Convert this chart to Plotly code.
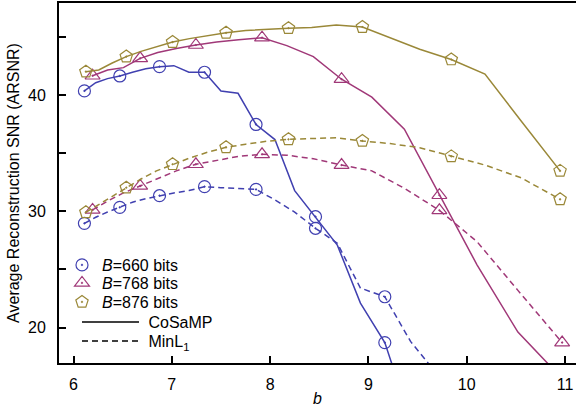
import plotly.graph_objects as go

# ---- data ----
b_660 = [6.111, 6.226, 6.346, 6.471, 6.600, 6.735, 6.875, 7.021, 7.174, 7.333,
         7.500, 7.674, 7.857, 8.049, 8.250, 8.462, 8.684, 8.919, 9.167, 9.429, 9.706]
cosamp_660 = [40.39, 41.10, 41.45, 41.68, 42.00, 42.30, 42.48, 42.57, 42.00, 42.00,
              40.39, 40.19, 37.50, 36.20, 31.80, 29.55, 27.10, 22.10, 18.70, 12.00, 8.0]
minl1_660 = [28.98, 29.50, 29.95, 30.36, 30.80, 31.10, 31.36, 31.60, 31.80, 32.14,
             32.05, 32.00, 31.90, 31.00, 29.95, 28.55, 27.26, 23.40, 22.65, 18.80, 15.90]

b_768 = [6.194, 6.347, 6.508, 6.678, 6.857, 7.046, 7.245, 7.456, 7.680, 7.918,
         8.170, 8.440, 8.727, 9.035, 9.366, 9.722, 10.105, 10.521, 10.971]
cosamp_768 = [41.70, 42.20, 42.40, 43.20, 43.70, 44.05, 44.35, 44.60, 44.80, 44.98,
              44.30, 43.35, 41.40, 39.85, 37.10, 31.40, 25.40, 19.60, 15.60]
minl1_768 = [30.13, 30.90, 31.60, 32.20, 32.90, 33.50, 34.07, 34.40, 34.75, 34.93,
             34.85, 34.55, 34.00, 33.50, 32.00, 30.10, 27.40, 23.20, 18.70]

b_876 = [6.126, 6.257, 6.394, 6.537, 6.687, 6.844, 7.008, 7.180, 7.361, 7.552, 7.752,
         7.964, 8.187, 8.423, 8.673, 8.939, 9.221, 9.522, 9.843, 10.186, 10.554, 10.950]
cosamp_876 = [42.05, 42.20, 42.80, 43.35, 43.80, 44.20, 44.60, 44.90, 45.15, 45.40, 45.60,
              45.70, 45.80, 45.85, 46.08, 45.90, 45.00, 43.98, 43.10, 41.85, 37.80, 33.50]
minl1_876 = [29.93, 30.60, 31.30, 32.05, 32.80, 33.50, 34.07, 34.60, 35.10, 35.53, 35.80,
             36.05, 36.22, 36.30, 36.36, 36.08, 35.85, 35.50, 34.75, 34.00, 32.90, 31.05]

x_ticks = [6, 7, 8, 9, 10, 11]
y_ticks = [20, 30, 40]
y_minor_ticks = [25, 35, 45]

series = [
    ("<i>B</i>=660 bits", b_660, cosamp_660, minl1_660, "rgb(64,64,176)", "circle-open-dot", 12),
    ("<i>B</i>=768 bits", b_768, cosamp_768, minl1_768, "rgb(160,56,120)", "triangle-up-open-dot", 13),
    ("<i>B</i>=876 bits", b_876, cosamp_876, minl1_876, "rgb(154,136,56)", "pentagon-open-dot", 13),
]

FONT = "Liberation Sans, Arial, sans-serif"
fig = go.Figure()

legend_ids = ["legend", "legend2", "legend3"]
for i, (name, bx, cs, ml, col, sym, msz) in enumerate(series):
    fig.add_trace(go.Scatter(x=bx[:len(cs)], y=cs, mode="lines",
                             line=dict(color=col, width=1.5), showlegend=False))
    fig.add_trace(go.Scatter(x=bx[:len(ml)], y=ml, mode="lines",
                             line=dict(color=col, width=1.5, dash="6px,4px"), showlegend=False))
    fig.add_trace(go.Scatter(x=bx[:len(cs)][::3], y=cs[::3], mode="markers",
                             marker=dict(symbol=sym, size=msz, color=col, line=dict(width=1.2)),
                             name=name, legend=legend_ids[i]))
    fig.add_trace(go.Scatter(x=bx[:len(ml)][::3], y=ml[::3], mode="markers",
                             marker=dict(symbol=sym, size=msz, color=col, line=dict(width=1.2)),
                             showlegend=False))

fig.add_trace(go.Scatter(x=[None], y=[None], mode="lines", name="\u00a0CoSaMP",
                         line=dict(color="black", width=1.5), legend="legend4"))
fig.add_trace(go.Scatter(x=[None], y=[None], mode="lines", name="\u00a0MinL<sub>1</sub>",
                         line=dict(color="black", width=1.5, dash="6px,4px"), legend="legend5"))

L, T, B = 59, 3, 44
W, H = 576, 407
ph = H - T - B
pw = W - L


def px2paper(xp, yp):
    return (xp - L) / pw, (H - B - yp) / ph


leg_common = dict(bgcolor="rgba(0,0,0,0)", borderwidth=0, xanchor="left", yanchor="middle",
                  font=dict(family=FONT, size=16, color="black"), tracegroupgap=0)
legend_layout = {}
for key, (xp, yp, iw) in zip(["legend", "legend2", "legend3", "legend4", "legend5"],
                             [(62, 265, 30), (62, 283, 30), (62, 302, 30), (77, 322, 57), (77, 341, 57)]):
    lx, ly = px2paper(xp, yp)
    legend_layout[key] = dict(leg_common, x=lx, y=ly, itemwidth=iw)

fig.update_layout(
    width=W, height=H,
    margin=dict(l=L, r=0, t=T, b=B),
    paper_bgcolor="white", plot_bgcolor="white",
    font=dict(family=FONT, size=16, color="black"),
    **legend_layout,
)
fig.update_xaxes(range=[5.8525, 11.112], tickvals=x_ticks, ticks="inside", ticklen=7,
                 tickwidth=1.5, tickcolor="black", showline=True, linewidth=2, linecolor="black",
                 mirror=True, showgrid=False, zeroline=False, ticklabelstandoff=6,
                 title=dict(text="<i>b</i>", standoff=4, font=dict(size=16)))
fig.update_yaxes(range=[16.94, 47.97], tickvals=y_ticks, ticks="inside",
                 ticklen=7, tickwidth=1.5, tickcolor="black", showline=True, linewidth=2,
                 linecolor="black", showgrid=False, zeroline=False, ticklabelstandoff=8,
                 minor=dict(tickvals=y_minor_ticks, ticks="inside", ticklen=7, tickwidth=1.5,
                            tickcolor="black", showgrid=False),
                 title=dict(text="Average Reconstruction SNR (ARSNR)", standoff=4, font=dict(size=16)))

fig.write_html("out.html")
